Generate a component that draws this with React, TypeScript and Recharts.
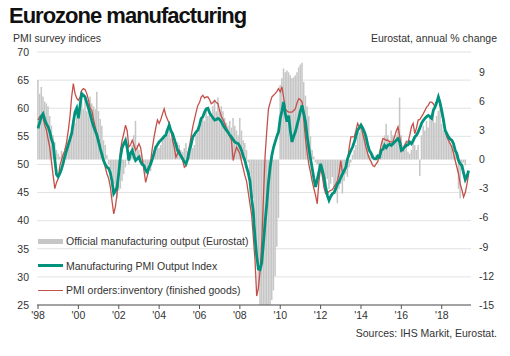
import React from 'react';
import { ComposedChart, Bar, Line, XAxis, YAxis, CartesianGrid, Legend } from 'recharts';

const FONT = '"Liberation Sans", Arial, Helvetica, sans-serif';

// monthly from Jan 1998 (PMI to May 2019)
const pmiOutput = [
  56.4, 57.5, 58.5, 59.0, 58.0, 57.2, 56.7, 55.8, 54.5, 53.7, 50.8, 48.2, // 1998
  47.8, 48.4, 49.2, 50.3, 51.5, 52.5, 53.5, 54.5, 55.5, 57.5, 59.3, 60.0, // 1999
  58.2, 60.5, 62.6, 62.3, 62.0, 61.0, 60.0, 59.0, 57.8, 56.8, 56.0, 55.2, // 2000
  54.0, 52.8, 51.8, 50.7, 50.0, 49.5, 49.3, 48.5, 47.0, 44.8, 45.3, 45.9, // 2001
  48.5, 51.3, 53.0, 53.7, 54.3, 53.0, 50.7, 52.0, 52.5, 51.5, 50.7, 51.0, // 2002
  51.3, 50.5, 50.0, 49.8, 49.0, 48.6, 49.5, 50.1, 51.0, 52.0, 53.1, 53.5, // 2003
  54.0, 54.3, 54.6, 55.0, 55.2, 56.2, 57.0, 56.0, 55.5, 54.5, 53.5, 52.5, // 2004
  52.0, 51.5, 51.0, 50.5, 50.1, 51.0, 52.5, 53.5, 54.9, 55.3, 55.8, 56.1, // 2005
  57.0, 58.2, 58.5, 59.3, 59.9, 60.0, 59.2, 58.7, 58.3, 57.9, 58.0, 58.2, // 2006
  58.0, 57.6, 57.0, 56.5, 56.1, 55.7, 55.2, 54.9, 54.4, 54.0, 53.8, 53.7, // 2007
  53.2, 52.5, 51.5, 50.7, 49.5, 48.5, 47.0, 44.0, 41.5, 37.0, 33.7, 31.4, // 2008
  31.3, 32.5, 36.0, 39.7, 43.0, 46.8, 49.5, 51.6, 53.0, 54.0, 55.0, 55.8, // 2009
  58.2, 59.5, 61.1, 59.0, 57.6, 58.7, 56.0, 54.0, 55.0, 55.8, 57.0, 58.2, // 2010
  59.5, 60.5, 59.0, 57.6, 55.0, 52.9, 51.0, 49.3, 47.5, 46.0, 47.3, 48.7, // 2011
  50.1, 49.0, 47.7, 46.0, 44.5, 43.6, 44.3, 44.8, 45.0, 45.7, 46.5, 46.9, // 2012
  47.7, 48.3, 48.9, 49.5, 51.0, 51.8, 52.5, 53.1, 54.0, 55.0, 56.1, 56.5, // 2013
  57.0, 56.5, 55.8, 54.9, 53.5, 52.5, 52.0, 51.3, 51.0, 51.0, 51.5, 51.3, // 2014
  52.5, 52.7, 53.4, 53.0, 53.4, 53.6, 53.4, 53.7, 54.0, 54.3, 54.6, 54.0, // 2015
  52.5, 52.7, 53.1, 53.4, 53.5, 54.0, 53.7, 54.2, 54.9, 55.2, 55.8, 56.5, // 2016
  57.3, 57.8, 58.2, 58.5, 58.7, 58.5, 58.2, 59.6, 60.2, 61.0, 62.0, 61.0, // 2017
  59.6, 58.0, 56.1, 55.5, 54.9, 54.5, 54.3, 53.7, 52.5, 51.9, 50.7, 50.1, // 2018
  49.8, 48.5, 47.3, 47.9, 48.9, // 2019
];

const ordersInventory = [
  57.9, 58.5, 58.8, 58.3, 57.0, 56.1, 54.5, 53.0, 50.5, 48.0, 45.7, 46.8, // 1998
  47.5, 49.8, 50.8, 51.8, 52.5, 54.0, 56.0, 58.5, 62.0, 64.4, 62.6, 61.8, // 1999
  61.4, 62.0, 63.2, 63.5, 63.3, 62.6, 61.5, 60.0, 59.6, 58.0, 56.7, 55.5, // 2000
  54.5, 53.1, 51.5, 50.5, 49.5, 48.3, 47.5, 46.0, 43.5, 41.2, 42.5, 44.8, // 2001
  48.5, 52.5, 54.3, 55.5, 57.0, 56.0, 53.1, 53.5, 54.3, 53.5, 52.5, 53.0, // 2002
  53.7, 53.0, 51.0, 48.9, 46.8, 48.0, 49.3, 50.7, 53.0, 54.9, 56.5, 57.9, // 2003
  57.3, 58.0, 59.0, 59.9, 58.7, 58.0, 57.3, 56.0, 54.3, 53.0, 51.3, 52.0, // 2004
  52.5, 51.5, 50.7, 49.5, 49.8, 51.5, 53.1, 55.0, 56.7, 58.0, 59.3, 60.5, // 2005
  61.0, 62.0, 62.3, 61.8, 62.0, 62.0, 61.5, 60.8, 61.0, 61.4, 61.0, 60.8, // 2006
  59.5, 58.5, 58.0, 57.3, 56.5, 55.8, 55.0, 54.3, 50.7, 52.0, 53.1, 52.5, // 2007
  51.9, 50.5, 49.3, 48.0, 47.0, 45.0, 43.0, 41.0, 37.0, 33.0, 26.6, 28.0, // 2008
  31.0, 36.1, 44.0, 51.6, 56.0, 59.9, 61.0, 62.0, 62.3, 62.6, 63.0, 63.5, // 2009
  62.9, 63.8, 62.0, 59.9, 59.5, 59.3, 59.3, 59.3, 59.6, 59.9, 61.0, 61.7, // 2010
  61.5, 61.1, 58.0, 54.5, 52.0, 50.0, 48.6, 47.0, 45.7, 44.5, 43.0, 47.0, // 2011
  49.5, 48.0, 45.9, 44.8, 44.8, 45.2, 45.4, 45.5, 46.0, 46.5, 47.1, 48.5, // 2012
  50.7, 48.3, 49.0, 49.5, 50.7, 53.0, 54.9, 54.9, 54.9, 56.0, 57.3, 56.7, // 2013
  57.0, 55.5, 54.3, 53.0, 51.9, 51.0, 50.5, 49.8, 49.6, 50.1, 50.5, 51.9, // 2014
  53.5, 54.6, 54.5, 54.3, 54.3, 54.0, 54.0, 54.0, 55.0, 56.0, 56.7, 55.0, // 2015
  53.1, 52.5, 53.5, 54.0, 54.0, 55.2, 56.7, 57.3, 55.5, 56.5, 57.9, 58.0, // 2016
  58.5, 59.0, 59.6, 60.2, 60.5, 61.1, 61.1, 60.8, 60.2, 61.0, 62.0, 60.5, // 2017
  59.0, 57.5, 56.1, 54.9, 54.3, 53.7, 53.1, 52.0, 50.7, 49.5, 48.3, 46.5, // 2018
  45.5, 44.2, 45.0, 46.5, 48.3, // 2019
];

// Eurostat manufacturing output, annual % change, to Mar 2019
const eurostatOutput = [
  8.2, 6.8, 7.5, 6.5, 6.0, 5.8, 5.5, 4.5, 3.5, 2.5, 1.8, 1.0, // 1998
  0.6, 0.3, 0.9, 0.5, 1.2, 1.5, 2.0, 2.4, 2.7, 3.3, 3.8, 4.3, // 1999
  4.8, 5.5, 6.0, 5.2, 6.3, 5.0, 5.8, 6.5, 5.8, 5.5, 5.2, 7.0, // 2000
  5.0, 4.2, 3.5, 2.0, 1.5, 0.5, -0.5, -1.0, -1.8, -2.5, -3.5, -4.0, // 2001
  -3.2, -3.0, -2.2, -1.5, -0.8, 0.2, -0.5, 0.8, 1.5, 2.5, 4.0, 1.5, // 2002
  1.0, 0.5, -0.3, -0.8, -1.5, -1.0, -0.5, -1.2, 0.3, 0.5, 1.0, 1.5, // 2003
  1.2, 1.5, 2.0, 2.3, 3.0, 2.5, 3.0, 2.2, 2.0, 1.5, 1.2, 1.8, // 2004
  1.5, 1.0, 0.8, 1.2, 1.7, 0.9, 1.5, 2.0, 1.2, 1.5, 2.5, 2.8, // 2005
  3.3, 3.8, 4.5, 4.0, 5.1, 4.5, 5.0, 4.3, 5.5, 6.1, 5.0, 6.4, // 2006
  4.8, 5.5, 5.0, 4.3, 3.8, 3.5, 4.0, 3.3, 4.3, 3.5, 3.0, 2.5, // 2007
  4.3, 3.0, 2.0, 1.7, 1.0, -0.3, -1.5, -3.0, -4.0, -6.5, -10.0, -13.5, // 2008
  -17.0, -19.0, -19.5, -21.0, -18.5, -17.0, -16.0, -14.5, -13.5, -12.0, -9.0, -6.0, // 2009
  7.7, 8.4, 9.4, 9.0, 9.2, 9.0, 8.7, 8.4, 8.5, 8.7, 9.0, 9.5, // 2010
  9.8, 10.0, 8.0, 6.6, 5.5, 4.5, 2.4, 1.0, 0.3, -0.3, -0.5, -0.8, // 2011
  -1.1, -1.5, -2.0, -2.5, -2.0, -3.0, -2.5, -1.8, -3.0, -3.5, -4.5, -3.0, // 2012
  -2.5, -3.5, -2.2, -1.5, -1.8, -0.8, -0.3, 0.5, 1.0, 1.5, 2.3, 2.8, // 2013
  3.3, 3.0, 2.5, 2.3, 1.5, 0.5, 0.3, 0.6, 0.2, 0.5, 0.4, 0.8, // 2014
  1.0, 2.0, 2.5, 3.7, 2.5, 2.0, 3.0, 2.5, 2.0, 2.5, 3.0, 6.4, // 2015
  2.5, 1.5, 1.0, 2.0, 0.8, 0.6, 1.0, 2.0, 1.5, 1.0, 1.5, -1.7, // 2016
  2.5, 3.5, 3.0, 4.0, 3.3, 4.5, 4.0, 5.4, 3.8, 4.5, 5.0, 5.3, // 2017
  3.7, 3.0, 3.5, 2.8, 2.5, 1.7, 1.5, 1.0, 0.6, 0.8, -3.0, -4.0, // 2018
  -1.1, -0.3, -0.6, // 2019
];

const yearTicks = [1998, 2000, 2002, 2004, 2006, 2008, 2010, 2012, 2014, 2016, 2018];
const leftTicks = [25, 30, 35, 40, 45, 50, 55, 60, 65, 70];
const rightTicks = [-15, -12, -9, -6, -3, 0, 3, 6, 9];

const GREY = '#c6c6c6';
const TEAL = '#00927d';
const RED = '#c4504a';

const chartData = pmiOutput.map((v, i) => ({
  t: 1998 + i / 12,
  output: i < eurostatOutput.length ? eurostatOutput[i] : null,
  pmi: v,
  ratio: ordersInventory[i],
}));

const legendItems = [
  { label: 'Official manufacturing output (Eurostat)', color: GREY, h: 5 },
  { label: 'Manufacturing PMI Output Index', color: TEAL, h: 3 },
  { label: 'PMI orders:inventory (finished goods)', color: RED, h: 1.2 },
];

const renderLegend = () => (
  <div style={{ fontFamily: FONT, fontSize: 10.5, color: '#333' }}>
    {legendItems.map(item => (
      <div key={item.label} style={{ display: 'flex', alignItems: 'center', height: 24.5 }}>
        <span style={{ display: 'inline-block', width: 25, height: item.h, background: item.color, marginRight: 3 }} />
        <span>{item.label}</span>
      </div>
    ))}
  </div>
);

const tickStyle = { fontSize: 10.5, fill: '#333', fontFamily: FONT };

const App: React.FC = () => {
  return (
    <div style={{ position: 'absolute', left: 0, top: 0, width: 510, height: 356, background: '#fff', fontFamily: FONT }}>
      <div style={{ position: 'absolute', left: 9, top: 3, fontSize: 22, lineHeight: '26px', fontWeight: 'bold', letterSpacing: -1, color: '#111' }}>
        Eurozone manufacturing
      </div>
      <div style={{ position: 'absolute', left: 13, top: 32, fontSize: 10.5, lineHeight: '12px', color: '#333' }}>
        PMI survey indices
      </div>
      <div style={{ position: 'absolute', right: 13, top: 32, fontSize: 10.5, lineHeight: '12px', color: '#333' }}>
        Eurostat, annual % change
      </div>
      <ComposedChart
        width={510}
        height={356}
        data={chartData}
        margin={{ top: 52, right: 4, left: 8, bottom: 31 }}
      >
        <CartesianGrid yAxisId="left" vertical={false} stroke="#e2e2e2" />
        <XAxis
          dataKey="t"
          type="number"
          domain={[1997.95, 2019.45]}
          ticks={yearTicks}
          allowDataOverflow
          tickFormatter={(y) => `'${String(y).slice(2)}`}
          height={20}
          tickSize={4}
          tickMargin={3}
          stroke="#555"
          tick={tickStyle}
        />
        <YAxis
          yAxisId="left"
          domain={[25, 70]}
          ticks={leftTicks}
          width={29}
          axisLine={false}
          tickLine={false}
          tick={tickStyle}
        />
        <YAxis
          yAxisId="right"
          orientation="right"
          domain={[-15, 11.1]}
          ticks={rightTicks}
          allowDataOverflow
          width={35}
          axisLine={false}
          tickLine={false}
          tick={tickStyle}
        />
        <Legend
          layout="horizontal"
          verticalAlign="middle"
          align="center"
          content={renderLegend}
          wrapperStyle={{ left: 38, top: 229, width: 260 }}
        />
        <Bar yAxisId="right" dataKey="output" fill={GREY} barSize={2.2} isAnimationActive={false} />
        <Line
          yAxisId="left"
          type="linear"
          dataKey="ratio"
          stroke={RED}
          strokeWidth={1.3}
          dot={false}
          isAnimationActive={false}
        />
        <Line
          yAxisId="left"
          type="linear"
          dataKey="pmi"
          stroke={TEAL}
          strokeWidth={2.8}
          dot={false}
          isAnimationActive={false}
        />
      </ComposedChart>
      <div style={{ position: 'absolute', right: 13, top: 327, fontSize: 10.5, lineHeight: '12px', color: '#333' }}>
        Sources: IHS Markit, Eurostat.
      </div>
    </div>
  );
};

export default App;
